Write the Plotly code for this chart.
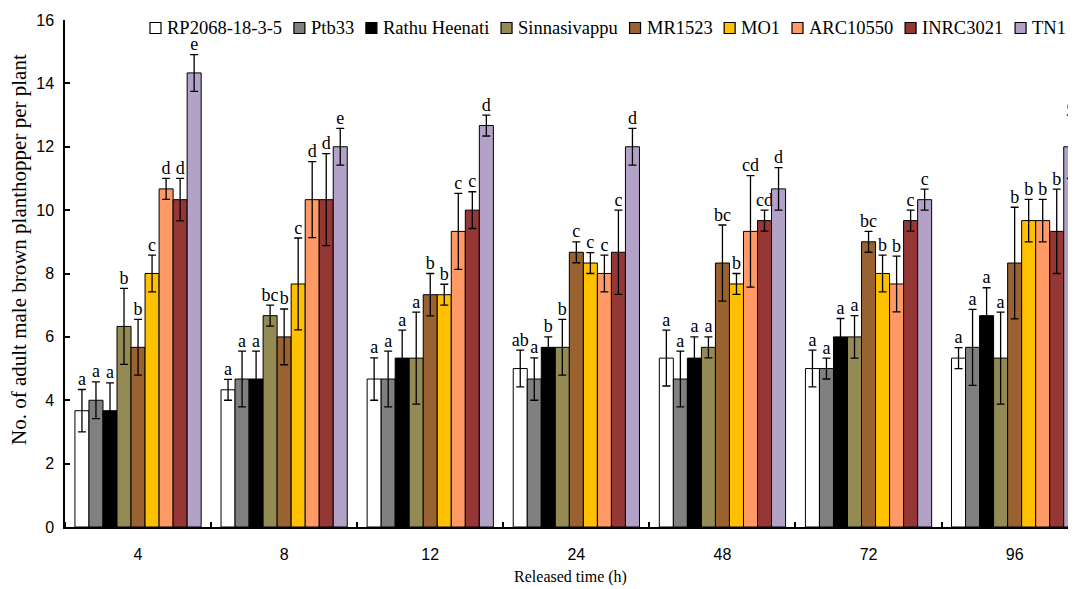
import plotly.graph_objects as go

times = ["4", "8", "12", "24", "48", "72", "96"]
varieties = ["RP2068-18-3-5", "Ptb33", "Rathu Heenati", "Sinnasivappu", "MR1523",
             "MO1", "ARC10550", "INRC3021", "TN1"]
colors = ["#FFFFFF", "#808080", "#000000", "#948A54", "#9A6230",
          "#FFC000", "#FF9966", "#953735", "#B3A2C7"]

# means per variety across times 4,8,12,24,48,72,96
means = [
    [3.67, 4.33, 4.67, 5.00, 5.33, 5.00, 5.33],
    [4.00, 4.67, 4.67, 4.67, 4.67, 5.00, 5.67],
    [3.67, 4.67, 5.33, 5.67, 5.33, 6.00, 6.67],
    [6.33, 6.67, 5.33, 5.67, 5.67, 6.00, 5.33],
    [5.67, 6.00, 7.33, 8.67, 8.33, 9.00, 8.33],
    [8.00, 7.67, 7.33, 8.33, 7.67, 8.00, 9.67],
    [10.67, 10.33, 9.33, 8.00, 9.33, 7.67, 9.67],
    [10.33, 10.33, 10.00, 8.67, 9.67, 9.67, 9.33],
    [14.33, 12.00, 12.67, 12.00, 10.67, 10.33, 12.00],
]
errors = [
    [0.67, 0.33, 0.67, 0.58, 0.88, 0.58, 0.33],
    [0.58, 0.88, 0.88, 0.67, 0.88, 0.33, 1.20],
    [0.88, 0.88, 0.88, 0.33, 0.67, 0.58, 0.88],
    [1.20, 0.33, 1.45, 0.88, 0.33, 0.67, 1.45],
    [0.88, 0.88, 0.67, 0.33, 1.20, 0.33, 1.76],
    [0.58, 1.45, 0.33, 0.33, 0.33, 0.58, 0.67],
    [0.33, 1.20, 1.20, 0.58, 1.76, 0.88, 0.67],
    [0.67, 1.45, 0.58, 1.33, 0.33, 0.33, 1.33],
    [0.58, 0.58, 0.33, 0.58, 0.67, 0.33, 1.00],
]
letters = [
    ["a", "a", "a", "ab", "a", "a", "a"],
    ["a", "a", "a", "a", "a", "a", "a"],
    ["a", "a", "a", "b", "a", "a", "a"],
    ["b", "bc", "a", "b", "a", "a", "a"],
    ["b", "b", "b", "c", "bc", "bc", "b"],
    ["c", "c", "b", "c", "b", "b", "b"],
    ["d", "d", "c", "c", "cd", "b", "b"],
    ["d", "d", "c", "c", "cd", "c", "b"],
    ["e", "e", "d", "d", "d", "c", "c"],
]

# page has an 8px body margin; compensate so the plot lands where the reference has it
OFF = 8
W, H = 1076 - OFF, 589 - OFF
ML, MR, MT = 65 - OFF, 0, 20 - OFF
PH = 507
MB = H - MT - PH
PW = W - ML - MR

SERIF = "Liberation Serif"
SANS = "Liberation Sans"

bargap = 0.136
n = len(varieties)
bw = (1 - bargap) / n
xpos = list(range(len(times)))

fig = go.Figure()
for j, (name, col) in enumerate(zip(varieties, colors)):
    fig.add_trace(go.Bar(
        x=xpos, y=means[j], name=name, showlegend=False,
        marker=dict(color=col, line=dict(color="#000000", width=1)),
        error_y=dict(type="data", array=errors[j], color="#000000", thickness=1.3, width=4),
    ))
for j in range(n):
    off = (j - (n - 1) / 2) * bw
    fig.add_trace(go.Scatter(
        x=[x + off for x in xpos],
        y=[m + e for m, e in zip(means[j], errors[j])],
        mode="text", text=letters[j], textposition="top center",
        textfont=dict(family=SERIF, size=18, color="#000000"),
        showlegend=False, hoverinfo="skip", cliponaxis=False,
    ))


def px2x(p):
    return (p - OFF - ML) / PW


def px2y(p):
    return 1 - (p - OFF - MT) / PH


# ---- manual legend (Times-like metrics for layout) ----
cw = {c: 0.5 for c in "0123456789"}
cw.update({"-": 0.333, " ": 0.25, "R": 0.667, "P": 0.556, "t": 0.278, "b": 0.5,
           "a": 0.444, "h": 0.5, "u": 0.5, "H": 0.722, "e": 0.444, "n": 0.5,
           "i": 0.278, "S": 0.556, "s": 0.389, "v": 0.5, "p": 0.5, "M": 0.889,
           "O": 0.722, "A": 0.722, "C": 0.667, "I": 0.333, "N": 0.722, "T": 0.611})
LF = 18.5
SYM = 11
SGAP = 6
x_start, x_end = 150, 1066
tw = [sum(cw.get(c, 0.5) for c in s) * LF for s in varieties]
g = (x_end - x_start - sum(tw) - n * (SYM + SGAP)) / (n - 1)
leg_y = 28

cx = x_start
for name, col, w in zip(varieties, colors, tw):
    fig.add_shape(type="rect", xref="paper", yref="paper",
                  x0=px2x(cx), x1=px2x(cx + SYM),
                  y0=px2y(leg_y + SYM / 2), y1=px2y(leg_y - SYM / 2),
                  fillcolor=col, line=dict(color="#000000", width=1.2))
    fig.add_annotation(xref="paper", yref="paper", x=px2x(cx + SYM + SGAP),
                       y=px2y(leg_y), text=name, showarrow=False,
                       xanchor="left", yanchor="middle", xshift=-2,
                       font=dict(family=SERIF, size=LF, color="#000000"))
    cx += SYM + SGAP + w + g

# y-axis title as annotation (reference centres it a little above plot middle)
fig.add_annotation(xref="paper", yref="paper", x=px2x(19), y=px2y(250),
                   text="No. of adult male brown planthopper per plant",
                   textangle=-90, showarrow=False, xanchor="center", yanchor="middle",
                   font=dict(family=SERIF, size=21, color="#000000"))

fig.update_layout(
    width=W, height=H,
    margin=dict(l=ML, r=MR, t=MT, b=MB),
    paper_bgcolor="white", plot_bgcolor="white",
    barmode="group", bargap=bargap, bargroupgap=0,
    showlegend=False,
    xaxis=dict(
        range=[-0.5, 6.42], tickmode="array", tickvals=xpos, ticktext=times,
        ticks="", showline=True, linecolor="#000000", linewidth=1.5,
        showgrid=False, zeroline=False, ticklabelstandoff=12, automargin=False,
        tickfont=dict(family=SANS, size=16, color="#000000"),
        minor=dict(ticks="inside", tick0=0.5, dtick=1, ticklen=5, tickcolor="#000000",
                   tickwidth=1.5, showgrid=False),
        title=dict(text="Released time (h)", standoff=9,
                   font=dict(family=SERIF, size=16, color="#000000")),
    ),
    yaxis=dict(
        range=[0, 16], dtick=2, ticks="inside", ticklen=5, tickwidth=1.5,
        tickcolor="#000000", showline=True, linecolor="#000000", linewidth=1.5,
        showgrid=False, zeroline=False, ticklabelstandoff=6, automargin=False,
        tickfont=dict(family=SANS, size=16, color="#000000"),
    ),
)

fig.write_html("out.html")
